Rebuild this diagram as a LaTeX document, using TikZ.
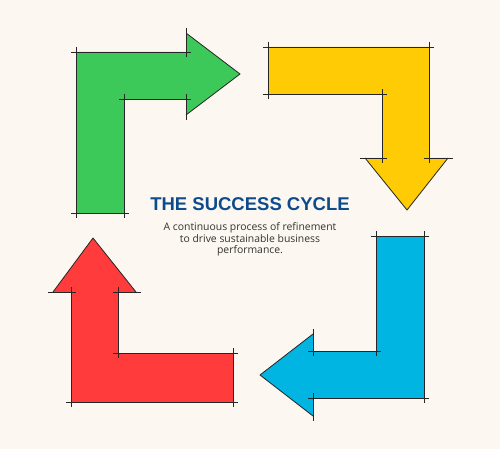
\documentclass[tikz,border=0pt]{standalone}
\usepackage{fontspec}
\setmainfont{Open Sans}
\newfontfamily\titlefont{Liberation Sans}
\definecolor{paper}{HTML}{FCF7F0}
\definecolor{cgreen}{HTML}{3CC95A}
\definecolor{cyellow}{HTML}{FFCB05}
\definecolor{cred}{HTML}{FF3B3B}
\definecolor{cblue}{HTML}{00B5E2}
\definecolor{ctitle}{HTML}{0E4B8D}
\definecolor{ctext}{HTML}{333333}
\tikzset{
	edge/.style={line width=0.8pt,black!85,shorten <=-5pt,shorten >=-5pt},
	tip/.style={line width=0.8pt,black!85,line join=round}
}
\begin{document}
\begin{tikzpicture}[x=1pt,y=-1pt]
		\fill[paper] (0,0) rectangle (500,449);
		\useasboundingbox (0,0) rectangle (500,449);

		\fill[cgreen] (76,52) -- (186,52) -- (186,33) -- (240,74) -- (186,115) -- (186,99) -- (124,99) -- (124,213) -- (76,213) -- cycle;
		\draw[tip] (186,33) -- (240,74) -- (186,115);
		\draw[edge] (76,52) -- (186,52);
		\draw[edge] (124,99) -- (186,99);
		\draw[edge] (76,52) -- (76,213);
		\draw[edge] (124,99) -- (124,213);
		\draw[edge] (76,213) -- (124,213);
		\draw[edge] (186,33) -- (186,52);
		\draw[edge] (186,99) -- (186,115);

		\fill[cyellow] (268,47) -- (429,47) -- (429,158) -- (448,158) -- (407,210) -- (365,158) -- (382,158) -- (382,94) -- (268,94) -- cycle;
		\draw[tip] (365,158) -- (407,210) -- (448,158);
		\draw[edge] (268,47) -- (429,47);
		\draw[edge] (268,94) -- (382,94);
		\draw[edge] (268,47) -- (268,94);
		\draw[edge] (382,94) -- (382,158);
		\draw[edge] (429,47) -- (429,158);
		\draw[edge] (365,158) -- (382,158);
		\draw[edge] (429,158) -- (448,158);

		\fill[cblue] (376,236) -- (424,236) -- (424,398) -- (313,398) -- (313,416) -- (260,375) -- (313,334) -- (313,351) -- (376,351) -- cycle;
		\draw[tip] (313,334) -- (260,375) -- (313,416);
		\draw[edge] (376,236) -- (424,236);
		\draw[edge] (376,236) -- (376,351);
		\draw[edge] (424,236) -- (424,398);
		\draw[edge] (313,351) -- (376,351);
		\draw[edge] (313,398) -- (424,398);
		\draw[edge] (313,334) -- (313,351);
		\draw[edge] (313,398) -- (313,416);

		\fill[cred] (71,402) -- (233,402) -- (233,353) -- (118,353) -- (118,292) -- (136,292) -- (93,238) -- (53,292) -- (71,292) -- cycle;
		\draw[tip] (53,292) -- (93,238) -- (136,292);
		\draw[edge] (71,292) -- (71,402);
		\draw[edge] (118,292) -- (118,353);
		\draw[edge] (118,353) -- (233,353);
		\draw[edge] (71,402) -- (233,402);
		\draw[edge] (233,353) -- (233,402);
		\draw[edge] (53,292) -- (71,292);
		\draw[edge] (118,292) -- (136,292);

		\node[text=ctitle,font=\titlefont\fontsize{18.5}{20}\selectfont\bfseries] (title) at (250,204) {THE SUCCESS CYCLE};
		\node[text=ctext,font=\fontsize{10.4}{11.7}\selectfont,align=center,anchor=north] (subtitle) at (250,219) {A continuous process of refinement\\to drive sustainable business\\performance.};
\end{tikzpicture}
\end{document}
